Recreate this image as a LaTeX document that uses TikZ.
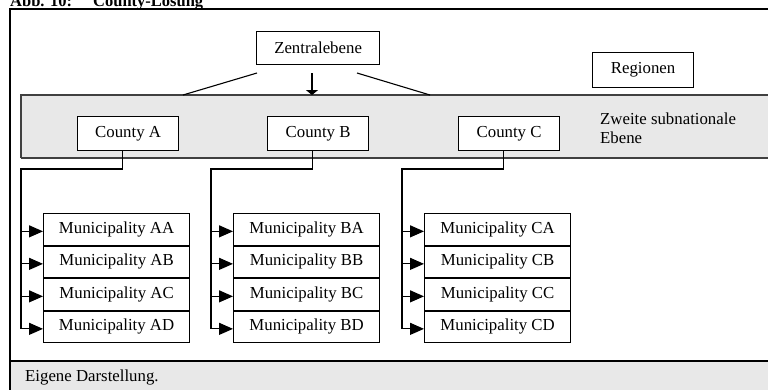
\documentclass[tikz,border=0pt]{standalone}
\usepackage{fontspec}
\setmainfont{Liberation Serif}
\usetikzlibrary{arrows.meta}
\definecolor{bandgray}{HTML}{E8E8E8}
\definecolor{bandline}{HTML}{404040}
\begin{document}
\begin{tikzpicture}[x=1pt,y=-1pt,
  font=\fontsize{16.8}{19}\selectfont,
  boxbase/.style={draw=black, line width=1.2pt, fill=white, inner sep=0pt, anchor=north west},
  topbox/.style={boxbase, minimum width=123pt, minimum height=33pt},
  regbox/.style={boxbase, minimum width=101pt, minimum height=35pt},
  countybox/.style={boxbase, minimum width=101pt, minimum height=34pt},
  munbox/.style={boxbase, minimum width=146pt, minimum height=31.5pt},
  conn/.style={line width=1.2pt},
  arr/.style={line width=1.2pt, -{Triangle[length=14pt,width=12pt]}},
  plain/.style={inner sep=0pt}
]
\useasboundingbox (0,0) rectangle (768,389);
\clip (0,0) rectangle (768,389);

% title
\node[plain, anchor=base west, font=\fontsize{16.5}{19}\selectfont\bfseries] (abb) at (10,6) {Abb. 10:};
\node[plain, anchor=base west, font=\fontsize{16.5}{19}\selectfont\bfseries] (ttl) at (93,6) {County-Lösung};

% footer band
\fill[bandgray] (10,361) rectangle (790,400);
\draw[line width=2pt] (10,361) -- (790,361);
\node[plain, anchor=west] (src) at (25,377) {Eigene Darstellung.};

% outer frame
\draw[line width=1.5pt] (790,9) -- (10,9) -- (10,400);

% regional band
\fill[bandgray] (21,95) rectangle (790,158);
\draw[bandline, line width=1.3pt] (790,95) -- (21,95) -- (21,158);
\draw[bandline, line width=2.2pt] (21,158) -- (790,158);

% top nodes
\node[topbox] (zentral) at (256,31) {Zentralebene};
\node[regbox] (regionen) at (592,52) {Regionen};
\node[plain, anchor=north west, align=left] (zweite) at (600,113) {Zweite subnationale\\Ebene};

% connectors from Zentralebene
\coordinate (zl) at (257,73);
\coordinate (zm) at (312,73);
\coordinate (zr) at (357,73);
\coordinate (bl) at (183,95);
\coordinate (bm) at (312,95);
\coordinate (br) at (430,95);
\draw[line width=1.1pt] (zl) -- (bl);
\draw[line width=1.1pt] (zr) -- (br);
\draw[line width=1.2pt, -{Triangle[length=5pt,width=12pt]}] (zm) -- (bm);

% counties and municipalities
\foreach \c/\bx/\tx/\cx in {A/43/21/77, B/233/211/267, C/424/402/458} {
  \node[countybox] (county\c) at (\cx,116) {County \c};
  \foreach \r [count=\i from 0] in {A,B,C,D} {
    \node[munbox] (m\c\r) at (\bx,213+32.5*\i) {Municipality \c\r};
  }
  \coordinate (t\c) at (\tx,169);
  \draw[conn] ([xshift=-5.5pt]county\c.south) |- (t\c) -- ([yshift=-2pt]m\c D.west -| t\c);
  \foreach \r in {A,B,C,D} {
    \draw[arr] ([yshift=-2pt]m\c\r.west -| t\c) -- ([yshift=-2pt]m\c\r.west);
  }
}
\end{tikzpicture}
\end{document}
